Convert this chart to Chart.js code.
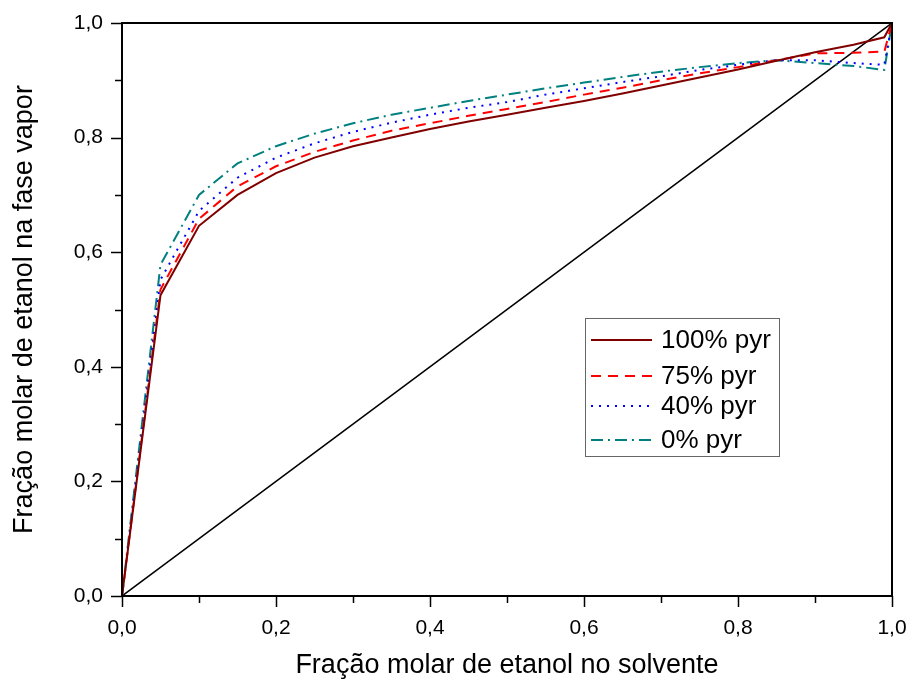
<!DOCTYPE html>
<html>
<head>
<meta charset="utf-8">
<script src="https://cdn.jsdelivr.net/npm/chart.js@4/dist/chart.umd.min.js"></script>
<style>
  html, body { margin: 0; padding: 0; background: #fff; }
  #wrap { width: 911px; height: 682px; }
</style>
</head>
<body>
<div id="wrap"><canvas id="vle-chart"></canvas></div>
<script>
// fraction of ethanol in the solvent (x axis)
const xLiquid = [0, 0.05, 0.1, 0.15, 0.2, 0.25, 0.3, 0.35, 0.4, 0.45, 0.5, 0.55, 0.6, 0.65, 0.7, 0.75, 0.8, 0.85, 0.9, 0.95, 0.99, 1.0];

// fraction of ethanol in the vapour phase, one per pyr content
const pyr100 = [0, 0.525, 0.646, 0.700, 0.738, 0.765, 0.785, 0.800, 0.815, 0.828, 0.840, 0.852, 0.864, 0.877, 0.891, 0.905, 0.919, 0.934, 0.949, 0.962, 0.975, 1.0];
const pyr75  = [0, 0.535, 0.658, 0.715, 0.750, 0.775, 0.795, 0.812, 0.825, 0.838, 0.850, 0.862, 0.875, 0.887, 0.900, 0.912, 0.923, 0.935, 0.947, 0.948, 0.950, 1.0];
const pyr40  = [0, 0.552, 0.672, 0.730, 0.765, 0.790, 0.810, 0.826, 0.840, 0.852, 0.862, 0.875, 0.886, 0.897, 0.907, 0.918, 0.927, 0.935, 0.935, 0.930, 0.927, 1.0];
const pyr0   = [0, 0.578, 0.700, 0.755, 0.785, 0.807, 0.825, 0.840, 0.852, 0.864, 0.875, 0.886, 0.896, 0.906, 0.915, 0.923, 0.930, 0.935, 0.930, 0.925, 0.918, 1.0];

const seriesLabels = ['100% pyr', '75% pyr', '40% pyr', '0% pyr'];
const diagonal = [0, 1];
const axisTicks = [0, 0.1, 0.2, 0.3, 0.4, 0.5, 0.6, 0.7, 0.8, 0.9, 1.0];

const FONT = '"Liberation Sans", Arial, sans-serif';

function toPoints(ys) {
    return xLiquid.map((x, i) => ({ x: x, y: ys[i] }));
}

function fmt(v) {
    const r = Math.round(v * 10);
    return r % 2 === 0 ? (r / 10).toFixed(1).replace('.', ',') : '';
}

// keep the plot box fixed, no extra room for overflowing labels
function noPad(scale) {
    scale.paddingLeft = 0;
    scale.paddingRight = 0;
    scale.paddingTop = 0;
    scale.paddingBottom = 0;
}

const styles = [
    { color: '#800000', dash: [] },
    { color: '#ff0000', dash: [10, 7] },
    { color: '#0000ff', dash: [2, 6] },
    { color: '#008080', dash: [12, 5, 2, 5] }
];

// ticks of different length, frame and legend box
const decorations = {
    id: 'decorations',
    afterDraw(chart) {
        const ctx = chart.ctx;
        const a = chart.chartArea;
        const xs = chart.scales.x, ys = chart.scales.y;
        ctx.save();
        ctx.strokeStyle = '#000';
        ctx.lineWidth = 1.5;
        axisTicks.forEach(v => {
            const major = Math.round(v * 10) % 2 === 0;
            const len = major ? 11 : 7;
            const px = Math.round(xs.getPixelForValue(v)) + 0.5;
            ctx.beginPath(); ctx.moveTo(px, a.bottom); ctx.lineTo(px, a.bottom + len); ctx.stroke();
            const py = Math.round(ys.getPixelForValue(v)) + 0.5;
            ctx.beginPath(); ctx.moveTo(a.left, py); ctx.lineTo(a.left - len, py); ctx.stroke();
        });
        ctx.lineWidth = 2;
        ctx.strokeRect(a.left, a.top, a.right - a.left, a.bottom - a.top);

        // legend
        const bx = 585, by = 318, bw = 194, bh = 138;
        ctx.lineWidth = 1;
        ctx.strokeStyle = '#666';
        ctx.strokeRect(bx + 0.5, by + 0.5, bw, bh);
        const rows = [340, 376, 406, 440];
        ctx.font = '26px ' + FONT;
        ctx.textBaseline = 'middle';
        ctx.fillStyle = '#000';
        seriesLabels.forEach((lab, i) => {
            const ds = chart.data.datasets[i];
            ctx.strokeStyle = ds.borderColor;
            ctx.lineWidth = ds.borderWidth;
            ctx.setLineDash(ds.borderDash);
            ctx.beginPath(); ctx.moveTo(591, rows[i]); ctx.lineTo(652, rows[i]); ctx.stroke();
            ctx.setLineDash([]);
            ctx.fillText(lab, 661, rows[i] + 1);
        });
        ctx.restore();
    }
};

const datasets = [pyr100, pyr75, pyr40, pyr0].map((ys, i) => ({
    label: seriesLabels[i],
    data: toPoints(ys),
    borderColor: styles[i].color,
    borderDash: styles[i].dash,
    borderWidth: 2,
    pointRadius: 0,
    fill: false,
    tension: 0
}));
datasets.push({
    label: 'x = y',
    data: diagonal.map(v => ({ x: v, y: v })),
    borderColor: '#000',
    borderWidth: 1.5,
    pointRadius: 0,
    fill: false
});

new Chart(document.getElementById('vle-chart'), {
    type: 'line',
    data: { datasets: datasets },
    options: {
        responsive: true,
        maintainAspectRatio: false,
        animation: false,
        layout: { padding: { left: 0, top: 23, right: 19, bottom: 0 } },
        plugins: {
            legend: { display: false },
            tooltip: { enabled: false }
        },
        scales: {
            x: {
                type: 'linear',
                min: 0, max: 1,
                afterFit(scale) { scale.height = 86; noPad(scale); },
                border: { display: false },
                grid: { drawOnChartArea: false, drawTicks: false, color: 'transparent' },
                ticks: {
                    stepSize: 0.1, autoSkip: false, maxRotation: 0,
                    padding: 20, color: '#000',
                    font: { family: FONT, size: 21 },
                    callback: v => fmt(v)
                },
                title: {
                    display: true,
                    text: 'Fração molar de etanol no solvente',
                    color: '#000',
                    font: { family: FONT, size: 27 },
                    padding: { top: 0, bottom: 0 }
                }
            },
            y: {
                type: 'linear',
                min: 0, max: 1,
                afterFit(scale) { scale.width = 122; noPad(scale); },
                border: { display: false },
                grid: { drawOnChartArea: false, drawTicks: false, color: 'transparent' },
                ticks: {
                    stepSize: 0.1, autoSkip: false,
                    padding: 19, color: '#000',
                    font: { family: FONT, size: 21 },
                    callback: v => fmt(v)
                },
                title: {
                    display: true,
                    text: 'Fração molar de etanol na fase vapor',
                    color: '#000',
                    font: { family: FONT, size: 27 },
                    padding: { top: 8, bottom: 0 }
                }
            }
        }
    },
    plugins: [decorations]
});
</script>
</body>
</html>
